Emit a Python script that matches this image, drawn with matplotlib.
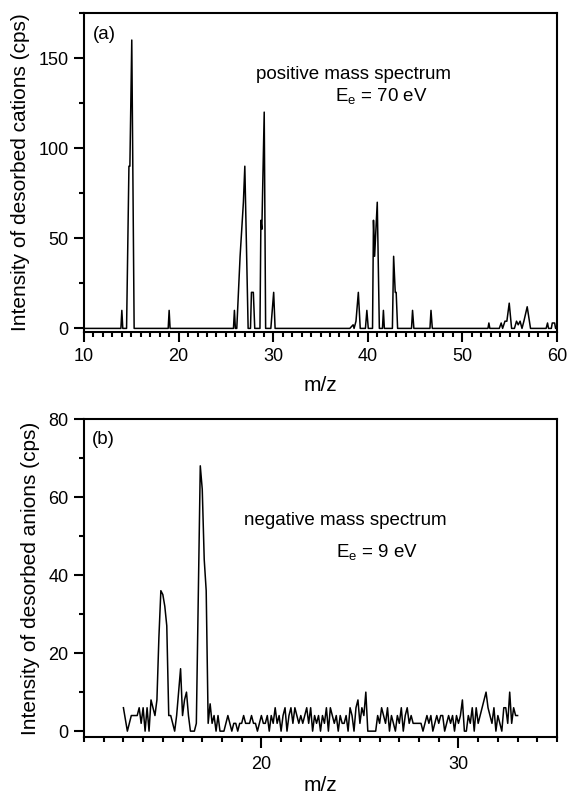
"""
Desorbed ion mass spectra: (a) cations at 70 eV, (b) anions at 9 eV.
"""

import matplotlib
matplotlib.use("Agg")
import matplotlib.pyplot as plt
import numpy as np
from matplotlib.ticker import MultipleLocator, FixedLocator

plt.rcParams["font.family"] = ["Liberation Sans", "DejaVu Sans"]
plt.rcParams["mathtext.fontset"] = "custom"
plt.rcParams["mathtext.rm"] = "Liberation Sans"

# ---- (a) positive spectrum (m/z, cps) ----
cation_mz = [
    10.0, 13.9, 14.0, 14.1, 14.5, 14.75, 14.85, 15.05, 15.3,
    18.9, 19.0, 19.1, 25.8, 25.9, 26.0, 26.15, 26.5, 26.85, 27.0, 27.35,
    27.6, 27.7, 27.9, 28.05, 28.6, 28.7, 28.8, 29.05, 29.2,
    29.75, 29.9, 30.05, 30.2, 38.1, 38.45, 38.55, 38.75, 39.0, 39.2,
    39.75, 39.9, 40.05, 40.5, 40.6, 40.72, 41.0, 41.22,
    41.55, 41.65, 41.75, 42.6, 42.73, 42.9, 43.0, 43.15,
    44.62, 44.73, 44.87, 46.57, 46.68, 46.82, 52.7, 52.8, 52.9,
    53.9, 54.1, 54.25, 54.5, 54.7, 54.95, 55.2, 55.5, 55.72, 55.9,
    56.1, 56.3, 56.5, 56.85, 57.2, 58.85, 59.0, 59.1, 59.4, 59.5,
    59.75, 59.85, 60.0,
]
cation_cps = [
    0, 0, 10, 0, 0, 90, 90, 160, 0,
    0, 10, 0, 0, 10, 0, 0, 40, 70, 90, 0,
    0, 20, 20, 0, 0, 60, 55, 120, 0,
    0, 10, 20, 0, 0, 2, 0, 4, 20, 0,
    0, 10, 0, 0, 60, 40, 70, 0,
    0, 10, 0, 0, 40, 20, 20, 0,
    0, 10, 0, 0, 10, 0, 0, 3, 0,
    0, 3, 0, 4, 4, 14, 0, 0, 4, 2,
    4, 0, 4, 12, 0, 0, 3, 0, 0, 3,
    3, 0, 0,
]

# ---- (b) negative spectrum, sampled every 0.1 amu from 13.0 to 33.0 ----
anion_start, anion_step = 13.0, 0.1
anion_cps = [
    6, 3, 0, 2, 4, 4, 4, 4, 6, 2,        # 13.x
    6, 0, 6, 0, 8, 6, 4, 8, 24, 36,      # 14.x
    35, 32, 27, 4, 4, 2, 0, 4, 10, 16,   # 15.x
    4, 8, 10, 4, 0, 0, 0, 2, 35, 68,     # 16.x
    62, 44, 36, 2, 7, 2, 4, 0, 4, 0,     # 17.x
    0, 0, 2, 4, 2, 0, 2, 2, 0, 2,        # 18.x
    2, 4, 2, 2, 2, 4, 2, 2, 0, 2,        # 19.x
    4, 2, 2, 4, 0, 4, 2, 6, 2, 4,        # 20.x
    0, 4, 6, 0, 4, 6, 2, 6, 4, 2,        # 21.x
    4, 2, 4, 6, 2, 6, 0, 4, 2, 4,        # 22.x
    0, 4, 2, 6, 0, 6, 4, 2, 4, 0,        # 23.x
    4, 2, 2, 4, 0, 6, 4, 0, 6, 8,        # 24.x
    2, 6, 4, 10, 0, 0, 0, 0, 0, 4,       # 25.x
    2, 6, 4, 2, 6, 0, 4, 2, 0, 4,        # 26.x
    2, 6, 0, 4, 6, 2, 4, 2, 2, 2,        # 27.x
    2, 2, 0, 2, 4, 2, 4, 0, 2, 4,        # 28.x
    2, 4, 4, 0, 2, 4, 2, 4, 0, 4,        # 29.x
    2, 4, 8, 0, 0, 4, 2, 6, 0, 6,        # 30.x
    2, 4, 6, 8, 10, 6, 4, 2, 6, 0,       # 31.x
    4, 2, 0, 6, 6, 2, 10, 2, 6, 4,       # 32.x
    4,                                   # 33.0
]
anion_mz = anion_start + anion_step * np.arange(len(anion_cps))

TICK_FS = 13
LABEL_FS = 15
TEXT_FS = 13.5


def _style(ax, xpad=4, xlen=7.5):
    for side in ("left", "bottom", "top", "right"):
        ax.spines[side].set_linewidth(1.5)
    ax.tick_params(which="major", direction="out", length=7, width=1.5,
                   labelsize=TICK_FS, top=False, right=False, pad=4)
    ax.tick_params(axis="x", which="major", length=xlen, pad=xpad)
    ax.tick_params(which="minor", direction="out", length=3.5, width=1.5,
                   top=False, right=False)


fig = plt.figure(figsize=(5.69, 7.99), dpi=100)

# (a) cations
ax1 = fig.add_axes([84 / 569, 1 - 332 / 799, 473 / 569, 319 / 799])
ax1.plot(cation_mz, cation_cps, color="black", linewidth=1.1)
ax1.set_xlim(10, 60)
ax1.set_ylim(-2, 175)
ax1.xaxis.set_major_locator(MultipleLocator(10))
ax1.xaxis.set_minor_locator(MultipleLocator(1))
ax1.yaxis.set_major_locator(MultipleLocator(50))
ax1.yaxis.set_minor_locator(MultipleLocator(25))
_style(ax1, xpad=4, xlen=7.5)
ax1.set_xlabel("m/z", fontsize=LABEL_FS, labelpad=8)
ax1.set_ylabel("Intensity of desorbed cations (cps)", fontsize=LABEL_FS, labelpad=6)
ax1.text(0.019, 0.934, "(a)", transform=ax1.transAxes, fontsize=TEXT_FS,
         va="center", ha="left")
ax1.text(0.363, 0.806, "positive mass spectrum", transform=ax1.transAxes,
         fontsize=TEXT_FS, va="center", ha="left")
ax1.text(0.531, 0.737, r"E$_\mathregular{e}$ = 70 eV", transform=ax1.transAxes,
         fontsize=TEXT_FS, va="center", ha="left")

# (b) anions
ax2 = fig.add_axes([84 / 569, 1 - 737 / 799, 473 / 569, 318 / 799])
ax2.plot(anion_mz, anion_cps, color="black", linewidth=1.1)
ax2.set_xlim(11, 35)
ax2.set_ylim(-1.5, 80)
ax2.xaxis.set_major_locator(FixedLocator([20, 30]))
ax2.xaxis.set_minor_locator(MultipleLocator(1))
ax2.yaxis.set_major_locator(MultipleLocator(20))
ax2.yaxis.set_minor_locator(MultipleLocator(10))
_style(ax2, xpad=6, xlen=8)
ax2.set_xlabel("m/z", fontsize=LABEL_FS, labelpad=2)
ax2.set_ylabel("Intensity of desorbed anions (cps)", fontsize=LABEL_FS, labelpad=6)
ax2.text(0.017, 0.937, "(b)", transform=ax2.transAxes, fontsize=TEXT_FS,
         va="center", ha="left")
ax2.text(0.339, 0.682, "negative mass spectrum", transform=ax2.transAxes,
         fontsize=TEXT_FS, va="center", ha="left")
ax2.text(0.533, 0.579, r"E$_\mathregular{e}$ = 9 eV", transform=ax2.transAxes,
         fontsize=TEXT_FS, va="center", ha="left")

fig.savefig("out.png", dpi=100)
